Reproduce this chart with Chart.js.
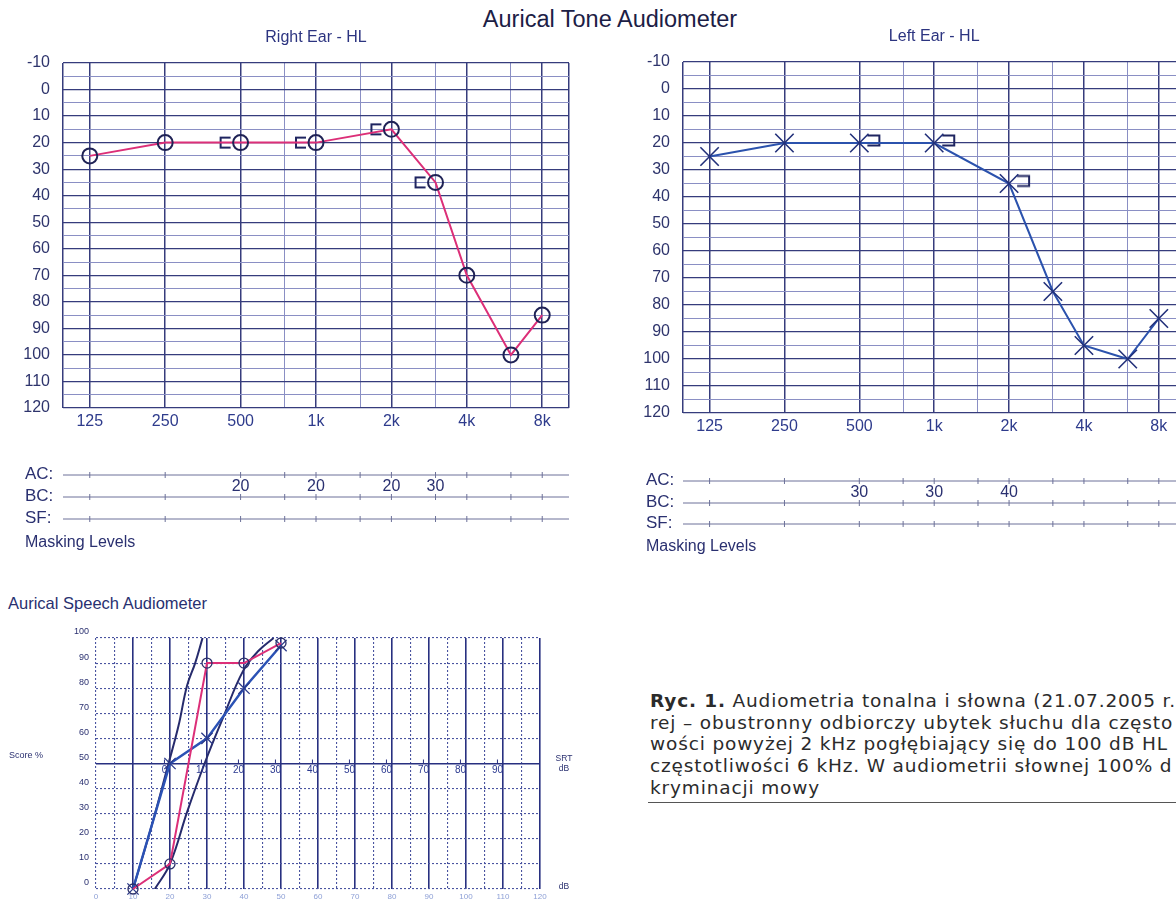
<!DOCTYPE html>
<html lang="pl">
<head>
<meta charset="utf-8">
<title>Aurical Tone Audiometer</title>
<script src="https://cdn.jsdelivr.net/npm/chart.js@4.4.1/dist/chart.umd.min.js"></script>
<style>
  html, body { margin: 0; padding: 0; background: #fff; }
  body { width: 1176px; height: 902px; overflow: hidden; position: relative; font-family: 'Liberation Sans', Arial, sans-serif; }
  canvas { position: absolute; }
  .t { position: absolute; white-space: nowrap; }
  #mainTitle { left: 410px; width: 400px; top: 6px; text-align: center; font-size: 23.5px; color: #1c2045; }
  #speechTitle { left: 8px; top: 594px; font-size: 16.5px; color: #283070; }
  #caption { left: 650px; top: 690px; font-family: 'DejaVu Sans', sans-serif; font-size: 18.5px; letter-spacing: 0.85px; line-height: 21.7px; color: #2b2b2b; }
  #rule { left: 648px; top: 802px; width: 540px; height: 0; border-top: 1px solid #555; }
</style>
</head>
<body>
<div id="mainTitle" class="t">Aurical Tone Audiometer</div>
<canvas id="rightEar" width="590" height="580" style="left:0;top:0"></canvas>
<canvas id="leftEar" width="600" height="580" style="left:600px;top:0"></canvas>
<div id="speechTitle" class="t">Aurical Speech Audiometer</div>
<canvas id="speech" width="600" height="292" style="left:0;top:610px"></canvas>
<div id="caption" class="t"><b>Ryc. 1.</b> Audiometria tonalna i słowna (21.07.2005 r.) u c<br>rej – obustronny odbiorczy ubytek słuchu dla często<br>wości powyżej 2 kHz pogłębiający się do 100 dB HL<br>częstotliwości 6 kHz. W audiometrii słownej 100% d<br>kryminacji mowy</div>
<div id="rule" class="t"></div>
<script>
// --- data ---
const octaveFreqs = [125, 250, 500, 1000, 2000, 4000, 8000];
const interFreqs = [750, 1500, 3000, 6000];
const freqTickLabels = ['125', '250', '500', '1k', '2k', '4k', '8k'];

const rightFreqs = [125, 250, 500, 1000, 2000, 3000, 4000, 6000, 8000];
const rightAir = [25, 20, 20, 20, 15, 35, 70, 100, 85];
const rightBoneFreqs = [500, 1000, 2000, 3000];
const rightBone = [20, 20, 15, 35];
const rightMaskFreqs = [500, 1000, 2000, 3000];
const rightMaskBC = [20, 20, 20, 30];

const leftFreqs = [125, 250, 500, 1000, 2000, 3000, 4000, 6000, 8000];
const leftAir = [25, 20, 20, 20, 35, 75, 95, 100, 85];
const leftBoneFreqs = [500, 1000, 2000];
const leftBone = [20, 20, 35];
const leftMaskFreqs = [500, 1000, 2000];
const leftMaskBC = [30, 30, 40];

const maskRows = ['AC', 'BC', 'SF'];

const speechDb = [10, 20, 30, 40, 50];
const speechRight = [0, 10, 90, 90, 98];
const speechLeft = [0, 50, 60, 80, 97];
const normalDb = [10, 15, 19.6, 22.3, 24.6, 26.8, 28.8];
const normalPct = [0, 25, 50, 65, 81, 90, 100];
const shiftedDb = [15.9, 20, 24.7, 29.6, 34.4, 39.8, 44, 48];
const shiftedPct = [0, 10, 31, 51, 68.5, 87, 95, 100];
const srtLabels = [0, 10, 20, 30, 40, 50, 60, 70, 80, 90];
const srtZeroDb = 18.5;

Chart.defaults.font.family = "'Liberation Sans', Arial, sans-serif";
Chart.defaults.animation = false;
Chart.defaults.plugins.legend.display = false;
Chart.defaults.plugins.tooltip.enabled = false;

const FONT = "'Liberation Sans', Arial, sans-serif";
const NAVY = '#2a3070';
const DARK = '#363c7c';
const LIGHT = '#8a8fc4';

function pts(xs, ys) {
  return xs.map((x, i) => ({ x: x, y: ys[i] }));
}

function bracketImage(side) {
  const c = document.createElement('canvas');
  c.width = 56; c.height = 24;
  const g = c.getContext('2d');
  g.strokeStyle = '#1f2560';
  g.lineWidth = 2;
  g.beginPath();
  if (side === 'left') {
    g.moveTo(28 - 10, 7); g.lineTo(28 - 20, 7); g.lineTo(28 - 20, 17); g.lineTo(28 - 10, 17);
  } else {
    g.moveTo(28 + 8, 4.5); g.lineTo(28 + 20, 4.5); g.lineTo(28 + 20, 14.5); g.lineTo(28 + 8, 14.5);
  }
  g.stroke();
  return c;
}

// AC/BC/SF masking rows under each audiogram, placed on the chart's own x scale
const maskingPlugin = {
  id: 'masking',
  afterDraw(chart, args, o) {
    const { ctx, chartArea } = chart;
    const x = chart.scales.x;
    const tickFreqs = octaveFreqs.concat(interFreqs);
    ctx.save();
    ctx.fillStyle = '#2c3480';
    ctx.font = '16px ' + FONT;
    ctx.textAlign = 'center';
    ctx.textBaseline = 'middle';
    ctx.fillText(o.heading, (chartArea.left + chartArea.right) / 2, o.headingY);

    ctx.fillStyle = NAVY;
    ctx.strokeStyle = '#6c7199';
    ctx.lineWidth = 1;
    maskRows.forEach((row, i) => {
      const y = o.rowY[i];
      ctx.beginPath();
      ctx.moveTo(chartArea.left, y);
      ctx.lineTo(chartArea.right, y);
      tickFreqs.forEach(f => {
        const px = x.getPixelForValue(f);
        ctx.moveTo(px, y - 3);
        ctx.lineTo(px, y + 3);
      });
      ctx.stroke();
      ctx.textAlign = 'left';
      ctx.font = '17px ' + FONT;
      ctx.fillText(row + ':', o.labelX, y - 1);
    });
    ctx.font = '16px ' + FONT;
    ctx.fillText('Masking Levels', o.labelX, o.legendY);
    ctx.textAlign = 'center';
    o.maskFreqs.forEach((f, i) => {
      ctx.fillText(String(o.maskValues[i]), x.getPixelForValue(f), o.rowY[1] + o.valueDy);
    });
    ctx.restore();
  }
};

function toneChart(id, cfg) {
  const gridFreqs = octaveFreqs.concat(interFreqs).sort((a, b) => a - b);
  const isEdge = c => c.index === 0 || c.index === gridFreqs.length + 1;
  return new Chart(document.getElementById(id), {
    type: 'scatter',
    data: {
      datasets: [{
        data: pts(cfg.freqs, cfg.air),
        showLine: true,
        borderColor: cfg.lineColor,
        borderWidth: 2,
        pointStyle: cfg.marker,
        pointRadius: cfg.markerRadius,
        pointBorderColor: cfg.markerColor,
        pointBorderWidth: cfg.markerWidth,
        pointBackgroundColor: 'rgba(0,0,0,0)',
        clip: false
      }, {
        data: pts(cfg.boneFreqs, cfg.bone),
        showLine: false,
        pointStyle: bracketImage(cfg.bracketSide),
        pointRadius: 10,
        clip: false
      }]
    },
    options: {
      responsive: false,
      layout: { padding: { top: cfg.top, right: cfg.padRight, bottom: cfg.padBottom, left: 0 } },
      scales: {
        x: {
          type: 'logarithmic',
          min: 125 / Math.pow(2, 0.355),
          max: 8000 * Math.pow(2, 0.355),
          afterBuildTicks: ax => {
            ax.ticks = [ax.min].concat(gridFreqs, [ax.max]).map(v => ({ value: v }));
          },
          afterFit: ax => { ax.height = 30; },
          ticks: {
            autoSkip: false, maxRotation: 0, padding: 4,
            color: '#2e3b8c', font: { size: 16 },
            callback: v => {
              const i = octaveFreqs.indexOf(v);
              return i >= 0 ? freqTickLabels[i] : '';
            }
          },
          grid: {
            drawTicks: false,
            color: c => (isEdge(c) || octaveFreqs.includes(c.tick.value)) ? DARK : LIGHT,
            lineWidth: c => (isEdge(c) || octaveFreqs.includes(c.tick.value)) ? 1.5 : 1
          },
          border: { display: false }
        },
        y: {
          reverse: true,
          min: -10,
          max: 120,
          afterFit: ax => { ax.width = cfg.axisWidth; },
          ticks: {
            stepSize: 5, autoSkip: false, padding: 13,
            color: '#2e346c', font: { size: 16 },
            callback: v => (v % 10 === 0 ? v : '')
          },
          grid: {
            drawTicks: false,
            color: c => (c.tick.value % 10 === 0 ? DARK : LIGHT),
            lineWidth: c => (c.tick.value % 10 === 0 ? 1.3 : 1)
          },
          border: { display: false }
        }
      },
      plugins: {
        masking: {
          heading: cfg.heading,
          headingY: cfg.headingY,
          rowY: cfg.rowY,
          legendY: cfg.legendY,
          labelX: cfg.labelX,
          valueDy: cfg.valueDy,
          maskFreqs: cfg.maskFreqs,
          maskValues: cfg.maskValues
        }
      }
    },
    plugins: [maskingPlugin]
  });
}

toneChart('rightEar', {
  heading: 'Right Ear - HL', headingY: 38,
  freqs: rightFreqs, air: rightAir, boneFreqs: rightBoneFreqs, bone: rightBone,
  lineColor: '#dc2f78', marker: 'circle', markerRadius: 7.5, markerColor: '#1f2255', markerWidth: 2,
  bracketSide: 'left',
  top: 63, padRight: 21, padBottom: 142, axisWidth: 63,
  rowY: [475, 497, 519], legendY: 543, labelX: 25, valueDy: -10,
  maskFreqs: rightMaskFreqs, maskValues: rightMaskBC
});

toneChart('leftEar', {
  heading: 'Left Ear - HL', headingY: 37,
  freqs: leftFreqs, air: leftAir, boneFreqs: leftBoneFreqs, bone: leftBone,
  lineColor: '#2b52ad', marker: 'crossRot', markerRadius: 13, markerColor: '#22307a', markerWidth: 1.6,
  bracketSide: 'right',
  top: 62, padRight: 13, padBottom: 137, axisWidth: 83,
  rowY: [481, 503, 524], legendY: 547, labelX: 46, valueDy: -10,
  maskFreqs: leftMaskFreqs, maskValues: leftMaskBC
});

// speech audiogram: SRT scale on the 50 % line and side captions
const srtPlugin = {
  id: 'srt',
  afterDraw(chart) {
    const { ctx, chartArea } = chart;
    const x = chart.scales.x, y = chart.scales.y;
    const y50 = y.getPixelForValue(50);
    ctx.save();
    ctx.strokeStyle = '#2a3080';
    ctx.lineWidth = 1;
    ctx.fillStyle = '#2b3990';
    ctx.font = '10px ' + FONT;
    ctx.textAlign = 'center';
    ctx.textBaseline = 'top';
    ctx.beginPath();
    srtLabels.forEach(v => {
      const px = x.getPixelForValue(srtZeroDb + v);
      ctx.moveTo(px, y50 - 4);
      ctx.lineTo(px, y50);
      ctx.fillText(String(v), px, y50 + 2);
    });
    ctx.stroke();
    ctx.fillStyle = NAVY;
    ctx.font = '8.5px ' + FONT;
    ctx.textBaseline = 'middle';
    ctx.fillText('SRT', chartArea.right + 24, y50 - 5);
    ctx.fillText('dB', chartArea.right + 24, y50 + 5);
    ctx.fillText('dB', chartArea.right + 24, y.getPixelForValue(0) - 2);
    ctx.textAlign = 'left';
    ctx.font = '9px ' + FONT;
    ctx.fillText('Score %', 9, y50 - 8);
    ctx.restore();
  }
};

new Chart(document.getElementById('speech'), {
  type: 'scatter',
  data: {
    datasets: [{
      data: pts(speechDb, speechRight),
      showLine: true,
      borderColor: '#dc2f78',
      borderWidth: 2,
      pointStyle: 'circle',
      pointRadius: 5,
      pointBorderColor: '#2a2f6a',
      pointBorderWidth: 1.3,
      pointBackgroundColor: 'rgba(0,0,0,0)',
      clip: false
    }, {
      data: pts(speechDb, speechLeft),
      showLine: true,
      borderColor: '#2b52b5',
      borderWidth: 2.5,
      pointStyle: 'crossRot',
      pointRadius: 8,
      pointBorderColor: '#2b3a8a',
      pointBorderWidth: 1.3,
      clip: false
    }, {
      data: pts(normalDb, normalPct),
      showLine: true,
      borderColor: '#262b6c',
      borderWidth: 2,
      tension: 0.4,
      pointRadius: 0
    }, {
      data: pts(shiftedDb, shiftedPct),
      showLine: true,
      borderColor: '#262b6c',
      borderWidth: 2,
      tension: 0.4,
      pointRadius: 0
    }]
  },
  options: {
    responsive: false,
    layout: { padding: { top: 28, right: 60, bottom: 1, left: 0 } },
    scales: {
      x: {
        type: 'linear',
        min: 0,
        max: 120,
        afterFit: ax => { ax.height = 12; },
        ticks: {
          stepSize: 5, autoSkip: false, maxRotation: 0, padding: 3,
          color: '#8ea0d6', font: { size: 8 },
          callback: v => (v % 10 === 0 ? v : '')
        },
        grid: {
          drawTicks: false,
          color: c => (c.tick.value % 10 === 0 && c.tick.value > 0 ? '#283080' : '#4a54a0'),
          lineWidth: c => (c.tick.value % 10 === 0 && c.tick.value > 0 ? 1.6 : 1.1)
        },
        border: {
          display: false,
          dash: c => (c.tick && c.tick.value % 10 === 0 && c.tick.value > 0 ? [] : [2, 2])
        }
      },
      y: {
        min: 0,
        max: 100,
        afterFit: ax => { ax.width = 96; },
        ticks: {
          stepSize: 10, padding: 7, labelOffset: -6,
          color: NAVY, font: { size: 9 }
        },
        grid: {
          drawTicks: false,
          color: c => (c.tick.value === 50 ? '#283080' : '#4a54a0'),
          lineWidth: c => (c.tick.value === 50 ? 1.6 : 1.1)
        },
        border: {
          display: false,
          dash: c => (c.tick && c.tick.value === 50 ? [] : [2, 2])
        }
      }
    }
  },
  plugins: [srtPlugin]
});
</script>
</body>
</html>
